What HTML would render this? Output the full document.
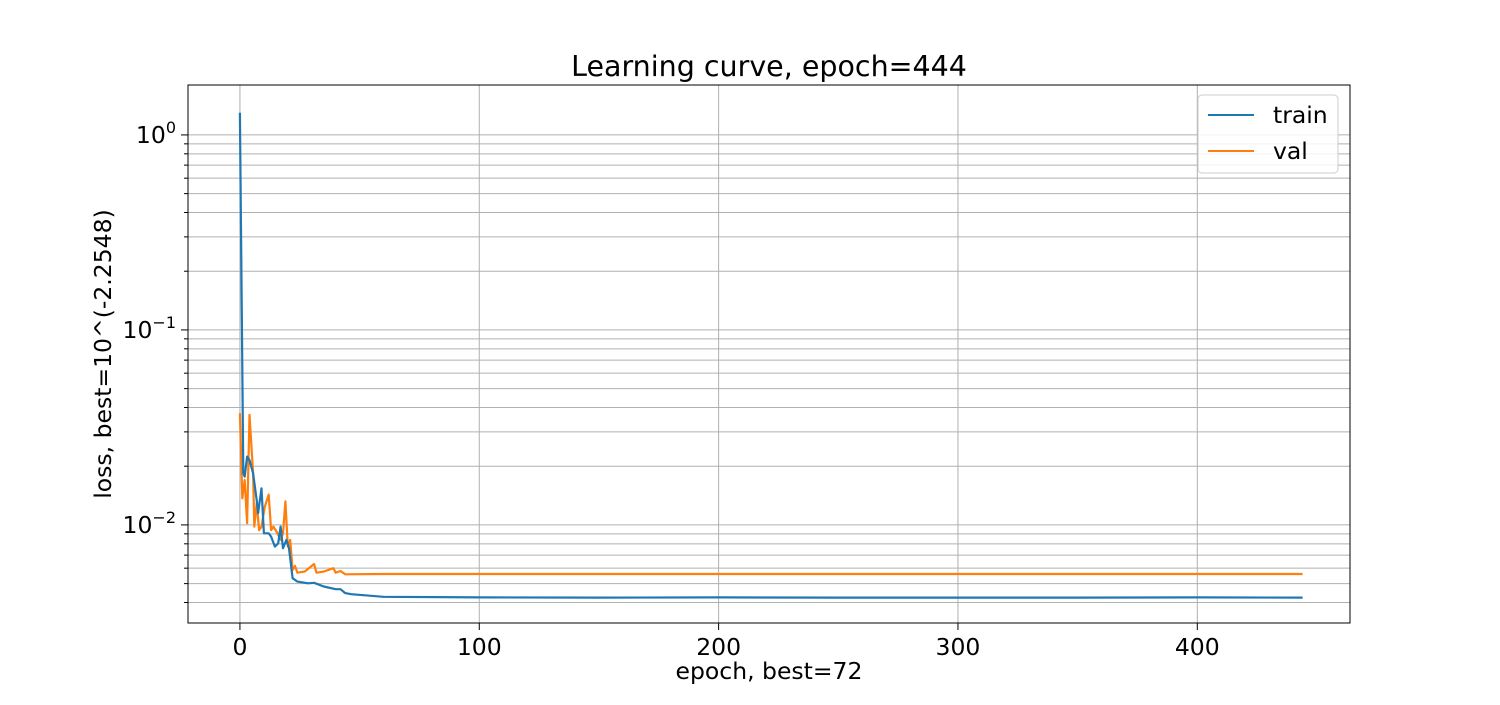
<!DOCTYPE html>
<html><head><meta charset="utf-8"><style>
body{margin:0;background:#fff;}
svg text{font-family:"DejaVu Sans","Liberation Sans",sans-serif;fill:#000;}
</style></head><body>
<svg id="chart" width="1500" height="700" xmlns="http://www.w3.org/2000/svg">
<rect width="1500" height="700" fill="#fff"/>
<g id="grid"></g><g id="series"></g><g id="axes"></g>
</svg>
<script>
const trainEpochs=[0,1.4,2,3,4,5.5,7,7.6,9,10,12,13,14.6,16,17,18,19.4,20.5,22,24,28.5,31,35,40,42,44,46.5,60,100,150,200,250,300,350,400,444];
const trainValues=[1.3,0.0184,0.0177,0.0224,0.0215,0.0184,0.0134,0.0115,0.0154,0.00906,0.00906,0.00871,0.00774,0.00805,0.0098,0.0076,0.00838,0.0076,0.00533,0.00512,0.00502,0.00505,0.00483,0.00468,0.00468,0.00447,0.00441,0.00428,0.00425,0.00424,0.00425,0.00424,0.00424,0.00424,0.00425,0.00424];
const valEpochs=[0,1,2,3,4,5.5,6,7,8,9,10.4,12,13,14,15.7,17,18,19,20,21,22,23,24,27,31,32,35,39,40,42,44,60,100,150,200,250,300,350,400,444];
const valValues=[0.0374,0.0137,0.0170,0.0102,0.0367,0.0184,0.0098,0.0129,0.0094,0.0098,0.0124,0.0143,0.0094,0.0098,0.00906,0.00838,0.00906,0.0132,0.00774,0.00838,0.00588,0.00616,0.00569,0.00576,0.0063,0.00569,0.00576,0.0060,0.00569,0.0058,0.00558,0.0056,0.0056,0.0056,0.0056,0.0056,0.0056,0.0056,0.0056,0.0056];
const xTicks=[0,100,200,300,400];
const yDecades=[-2,-1,0];

const L=188,R=1350,T=85,B=623;
const xMin=-21.7,xMax=463.8,lMin=-2.503,lMax=0.256;
const X=e=>L+(e-xMin)/(xMax-xMin)*(R-L);
const Y=v=>T+(lMax-Math.log10(v))/(lMax-lMin)*(B-T);
const NS="http://www.w3.org/2000/svg";
function mk(p,tag,attrs){const el=document.createElementNS(NS,tag);for(const k in attrs)el.setAttribute(k,attrs[k]);p.appendChild(el);return el;}
const grid=document.getElementById('grid'),axes=document.getElementById('axes'),ser=document.getElementById('series');

for(const t of xTicks){const x=X(t);
 const g=mk(grid,'line',{x1:x,x2:x,y1:T,y2:B,stroke:'#b0b0b0','stroke-width':1});
 
 
 mk(axes,'line',{x1:x,x2:x,y1:B,y2:B+7,stroke:'#000','stroke-width':1});
 const tx=mk(axes,'text',{x:x,y:B+32,'text-anchor':'middle','font-size':23.5});tx.textContent=t;
 
 
}
for(let d=-3;d<=0;d++){for(let m=1;m<=9;m++){const v=m*Math.pow(10,d);const lv=Math.log10(v);if(lv<lMin||lv>lMax)continue;const y=Y(v);
 const g=mk(grid,'line',{x1:L,x2:R,y1:y,y2:y,stroke:'#b0b0b0','stroke-width':1});
 
 
 mk(axes,'line',{x1:L-(m===1?7:4),x2:L,y1:y,y2:y,stroke:'#000','stroke-width':1});
}}
for(const d of yDecades){const y=Y(Math.pow(10,d));
 const tx=mk(axes,'text',{x:L-12,y:y+8,'text-anchor':'end','font-size':23.5});
 tx.innerHTML='10<tspan dy="-10" font-size="16">'+(d<0?'\u2212'+(-d):d)+'</tspan>';
 
 
}
function line(ep,vals,color,name){const pts=ep.map((e,i)=>X(e).toFixed(1)+','+Y(vals[i]).toFixed(1)).join(' ');
 const p=mk(ser,'polyline',{points:pts,fill:'none',stroke:color,'stroke-width':2.2,'stroke-linejoin':'round'});
 
 }
line(valEpochs,valValues,'#ff7f0e','val-line');
line(trainEpochs,trainValues,'#1f77b4','train-line');
const fr=mk(axes,'rect',{x:L,y:T,width:R-L,height:B-T,fill:'none',stroke:'#000','stroke-width':1});


</script>
<svg style="position:absolute;left:0;top:0" width="1500" height="700">
<text x="769" y="76" text-anchor="middle" font-size="28.5">Learning curve, epoch=444</text>
<text x="769" y="679" text-anchor="middle" font-size="23.5">epoch, best=72</text>
<text transform="translate(111,354) rotate(-90)" text-anchor="middle" font-size="23.5">loss, best=10^(-2.2548)</text>
<g>
<rect x="1198" y="95" width="140" height="78" rx="4" fill="#fff" fill-opacity="0.85" stroke="#ccc"/>
<line x1="1208" x2="1254" y1="115" y2="115" stroke="#1f77b4" stroke-width="2"/>
<text x="1273" y="123" font-size="23.5">train</text>
<line x1="1208" x2="1254" y1="151" y2="151" stroke="#ff7f0e" stroke-width="2"/>
<text x="1273" y="159" font-size="23.5">val</text>
</g>
</svg>
</body></html>
